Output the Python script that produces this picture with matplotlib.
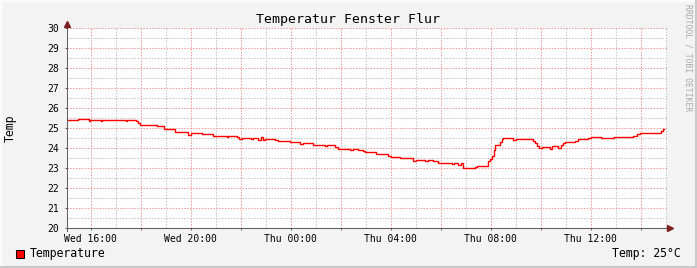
import matplotlib
matplotlib.use("Agg")
import matplotlib.pyplot as plt
from matplotlib.lines import Line2D
from matplotlib.patches import Rectangle
from matplotlib.ticker import MultipleLocator, FuncFormatter

# --- Data (hours since Wed 00:00, temperature in degC) ---
hours = [
    15.04, 15.48, 15.93, 15.97, 16.41, 16.46, 17.40, 17.46, 17.81, 17.90,
    17.97, 18.64, 18.93, 19.37, 19.44, 19.90, 20.00, 20.44, 20.90, 20.97,
    21.44, 21.50, 21.84, 21.94, 22.04, 22.40, 22.48, 22.70, 22.80, 22.90,
    22.97, 23.37, 23.50, 23.97, 24.37, 24.48, 24.90, 25.37, 25.46, 25.77,
    25.90, 26.37, 26.48, 26.70, 26.88, 26.97, 27.41, 27.50, 27.90, 28.00,
    28.37, 28.90, 29.01, 29.37, 29.48, 29.70, 29.90, 30.44, 30.53, 30.70,
    30.80, 30.90, 31.37, 31.46, 31.90, 31.97, 32.06, 32.13, 32.18, 32.37,
    32.44, 32.50, 32.90, 33.00, 33.70, 33.77, 33.84, 33.94, 34.04, 34.37,
    34.46, 34.70, 34.80, 34.90, 34.97, 35.37, 35.47, 35.90, 36.00, 36.40,
    36.93, 37.04, 37.37, 37.46, 37.70, 37.84, 37.97, 38.80, 38.88, 38.92,
]
temps = [
    25.40, 25.45, 25.35, 25.40, 25.35, 25.40, 25.35, 25.40, 25.35, 25.25,
    25.15, 25.10, 24.95, 24.80, 24.82, 24.65, 24.75, 24.72, 24.60, 24.62,
    24.58, 24.62, 24.55, 24.47, 24.50, 24.45, 24.50, 24.43, 24.55, 24.43,
    24.47, 24.42, 24.37, 24.30, 24.23, 24.27, 24.17, 24.12, 24.17, 24.08,
    23.98, 23.92, 23.98, 23.92, 23.85, 23.80, 23.72, 23.70, 23.60, 23.58,
    23.50, 23.38, 23.42, 23.37, 23.42, 23.37, 23.25, 23.20, 23.25, 23.18,
    23.25, 23.00, 23.08, 23.13, 23.35, 23.45, 23.60, 23.90, 24.17, 24.30,
    24.45, 24.50, 24.40, 24.45, 24.35, 24.25, 24.12, 24.02, 24.05, 23.98,
    24.10, 24.00, 24.17, 24.25, 24.30, 24.38, 24.45, 24.50, 24.58, 24.50,
    24.55, 24.58, 24.55, 24.58, 24.63, 24.70, 24.75, 24.88, 24.95, 24.95,
]
x_start, x_end = 15.05, 39.05
y_min, y_max = 20, 30
title = "Temperatur Fenster Flur"
ylabel = "Temp"
legend_label = "Temperature"
current_text = "Temp: 25°C"
days = ["Wed", "Thu"]

# --- Style ---
plt.rcParams["font.family"] = "DejaVu Sans Mono"
bg = "#F3F3F3"
axis_col = "#606060"
arrow_col = "#7F1F1F"
mgrid_col = "#F29A9A"
grid_col = "#C4C4C4"

W, H = 697, 268
fig = plt.figure(figsize=(W / 100, H / 100), dpi=100, facecolor=bg)
ax = fig.add_axes([67 / W, (H - 228.3) / H, 600 / W, 200 / H])
ax.set_facecolor("white")

ax.step(hours, temps, where="post", color="#FF0000", linewidth=1.0, zorder=3)

ax.set_xlim(x_start, x_end)
ax.set_ylim(y_min, y_max)


def time_label(t, pos):
    if round(t) % 4 != 0:
        return ""
    return f"{days[int(t // 24)]} {int(t % 24):02d}:00"


ax.xaxis.set_major_locator(MultipleLocator(2))
ax.xaxis.set_minor_locator(MultipleLocator(1))
ax.xaxis.set_major_formatter(FuncFormatter(time_label))
ax.yaxis.set_major_locator(MultipleLocator(1))
ax.yaxis.set_minor_locator(MultipleLocator(0.5))

dots = (0, (1.4, 1.4))
ax.grid(which="major", color=mgrid_col, linewidth=0.75, linestyle=dots, zorder=1)
ax.grid(which="minor", color=grid_col, linewidth=0.75, linestyle=dots, zorder=1)
ax.set_axisbelow(True)

for s in ax.spines.values():
    s.set_visible(False)
ax.tick_params(which="major", length=1.5, width=0.75, color=axis_col,
               labelsize=7)
ax.tick_params(which="minor", length=0)
ax.tick_params(axis="x", pad=2.5)
ax.tick_params(axis="y", pad=4)

# axis lines with arrows
ax.plot([0, 0], [-0.015, 1.03], transform=ax.transAxes, color=axis_col,
        linewidth=0.75, clip_on=False, zorder=4)
ax.plot([0, 1.008], [0, 0], transform=ax.transAxes, color=axis_col,
        linewidth=0.75, clip_on=False, zorder=4)
ax.plot([0], [1.02], marker="^", markersize=4, color=arrow_col,
        transform=ax.transAxes, clip_on=False, zorder=5)
ax.plot([1.005], [0], marker=">", markersize=4, color=arrow_col,
        transform=ax.transAxes, clip_on=False, zorder=5)

# --- Texts ---
fig.text(348 / W, 1 - 19 / H, title, ha="center", va="center", fontsize=9.5)
fig.text(10 / W, 1 - 128 / H, ylabel, rotation=90, ha="center", va="center",
         fontsize=8.3)
fig.text(688 / W, 1 - 4 / H, "RRDTOOL / TOBI OETIKER", rotation=270,
         ha="center", va="top", fontsize=5.8, color="#A8A8A8")

fig.patches.append(Rectangle((16 / W, (H - 258) / H), 8 / W, 8 / H,
                             transform=fig.transFigure, facecolor="#FF0000",
                             edgecolor="black", linewidth=0.75))
fig.text(30 / W, 1 - 254 / H, legend_label, ha="left", va="center",
         fontsize=8.3)
fig.text(681 / W, 1 - 254 / H, current_text, ha="right", va="center",
         fontsize=8.3)

# shaded frame: light top/left, grey bottom/right
fig.lines.append(Line2D([0, 1], [1, 1], transform=fig.transFigure,
                        color="#FCFCFC", linewidth=2.5))
fig.lines.append(Line2D([0, 0], [0, 1], transform=fig.transFigure,
                        color="#FCFCFC", linewidth=2.5))
fig.lines.append(Line2D([0, 1], [0, 0], transform=fig.transFigure,
                        color="#CACACA", linewidth=3))
fig.lines.append(Line2D([1, 1], [0, 1], transform=fig.transFigure,
                        color="#CACACA", linewidth=3))

fig.savefig("out.png", dpi=100, facecolor=bg)
